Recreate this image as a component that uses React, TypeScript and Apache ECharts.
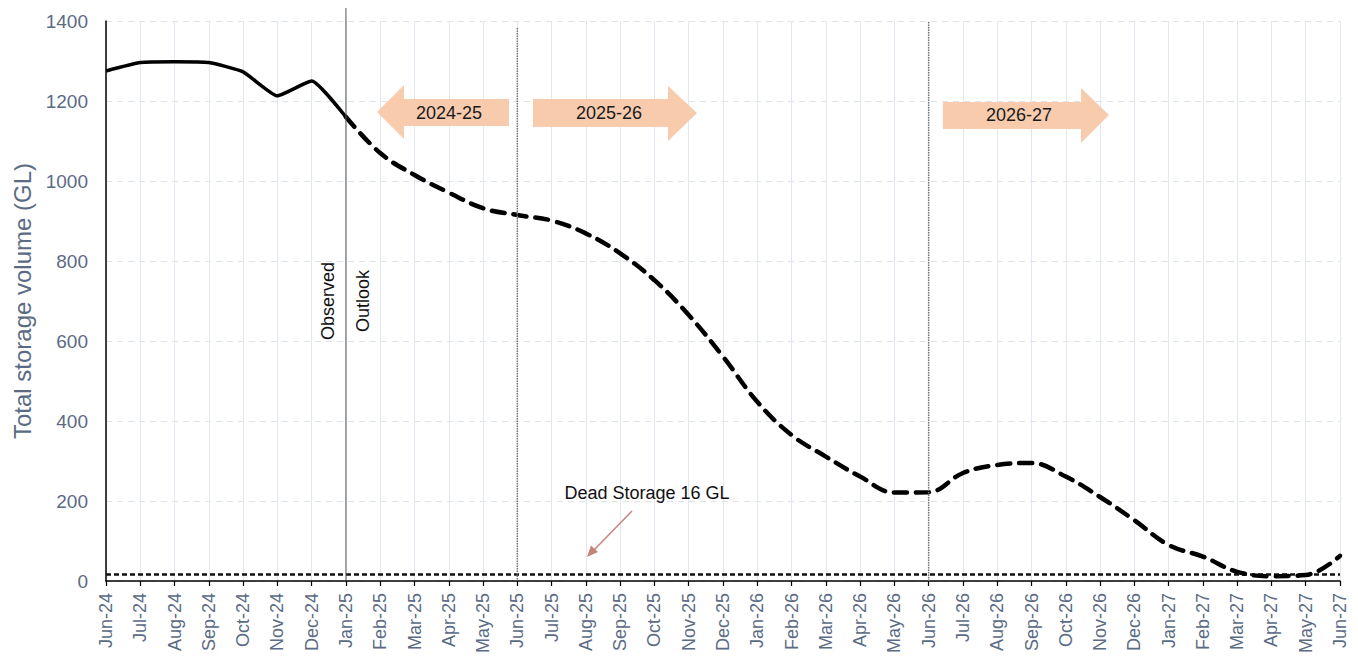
import React, { useEffect, useRef } from "react";
import * as echarts from "echarts";

const months = [
  "Jun-24", "Jul-24", "Aug-24", "Sep-24", "Oct-24", "Nov-24", "Dec-24",
  "Jan-25", "Feb-25", "Mar-25", "Apr-25", "May-25", "Jun-25", "Jul-25",
  "Aug-25", "Sep-25", "Oct-25", "Nov-25", "Dec-25", "Jan-26", "Feb-26",
  "Mar-26", "Apr-26", "May-26", "Jun-26", "Jul-26", "Aug-26", "Sep-26",
  "Oct-26", "Nov-26", "Dec-26", "Jan-27", "Feb-27", "Mar-27", "Apr-27",
  "May-27", "Jun-27",
];

const observedValues = [1275, 1296, 1298, 1296, 1273, 1213, 1250, 1160];

const outlookValues = [
  1160, 1070, 1015, 971, 932, 915, 901, 869, 819, 752, 665, 561, 448, 365,
  311, 261, 221, 222, 270, 290, 295, 261, 210, 152, 90, 61, 23, 12, 15, 63,
];

const deadStorage = 16;

const yTicks = { min: 0, max: 1400, interval: 200 };

const observedSeries = months.map((_, i) =>
  i < observedValues.length ? observedValues[i] : null
);
const outlookStart = months.length - outlookValues.length;
const outlookSeries = months.map((_, i) =>
  i >= outlookStart ? outlookValues[i - outlookStart] : null
);
const deadSeries = months.map(() => deadStorage);

const SLATE = "#5b6b84";
const FONT = "'Liberation Sans', Arial, sans-serif";
const PEACH = "#f8cbad";

export default function App() {
  const ref = useRef<HTMLDivElement>(null);

  useEffect(() => {
    document.body.style.margin = "0";
    const chart = echarts.init(ref.current!, null, { renderer: "svg" });
    chart.setOption({
      animation: false,
      grid: { left: 106, right: 18, top: 21, bottom: 77, containLabel: false },
      xAxis: {
        type: "category",
        data: months,
        boundaryGap: false,
        axisLine: { show: true, lineStyle: { color: "#000", width: 1.5 } },
        axisTick: { show: true, length: 5, lineStyle: { color: "#000", width: 1.2 } },
        axisLabel: {
          rotate: 90,
          interval: 0,
          margin: 12,
          color: SLATE,
          fontSize: 18,
          fontFamily: FONT,
        },
        splitLine: { show: true, lineStyle: { color: "#e3e8f0", width: 1 } },
      },
      yAxis: {
        type: "value",
        min: yTicks.min,
        max: yTicks.max,
        interval: yTicks.interval,
        name: "Total storage volume (GL)",
        nameLocation: "middle",
        nameGap: 72,
        nameTextStyle: { color: SLATE, fontSize: 24, fontFamily: FONT },
        axisLine: { show: true, lineStyle: { color: "#000", width: 1.5 } },
        axisTick: { show: false },
        axisLabel: {
          color: SLATE,
          fontSize: 19,
          fontFamily: FONT,
          margin: 18,
          formatter: (v: number) => String(v),
        },
        splitLine: {
          show: true,
          lineStyle: { color: "#dde3ec", type: [6, 5], width: 1 },
        },
      },
      series: [
        {
          name: "Dead storage",
          type: "line",
          data: deadSeries,
          symbol: "none",
          lineStyle: { color: "#111", width: 2.5, type: [5, 3] },
          z: 3,
        },
        {
          name: "Outlook",
          type: "line",
          data: outlookSeries,
          symbol: "none",
          smooth: 0.4,
          connectNulls: false,
          lineStyle: { color: "#000", width: 4.5, type: [13, 9], cap: "round" },
          z: 4,
        },
        {
          name: "Observed",
          type: "line",
          data: observedSeries,
          symbol: "none",
          smooth: 0.15,
          lineStyle: { color: "#000", width: 3.5, join: "round" },
          z: 5,
        },
      ],
    });

    const xPx = (m: string) => chart.convertToPixel({ xAxisIndex: 0 }, m) as number;
    const yPx = (v: number) => chart.convertToPixel({ yAxisIndex: 0 }, v) as number;
    const bottom = yPx(0);
    const xJan25 = xPx("Jan-25");
    const xJun25 = xPx("Jun-25");
    const xJun26 = xPx("Jun-26");
    const midY = yPx(700);

    const textStyle = (extra: any) => ({
      fontFamily: FONT,
      fontSize: 18,
      fill: "#111",
      align: "center",
      verticalAlign: "middle",
      ...extra,
    });

    chart.setOption({
      graphic: [
        {
          type: "line",
          shape: { x1: xJan25, y1: 8, x2: xJan25, y2: bottom },
          style: { stroke: "#555", lineWidth: 1 },
          z: 10,
        },
        {
          type: "line",
          shape: { x1: xJun25, y1: 28, x2: xJun25, y2: bottom },
          style: { stroke: "#777", lineWidth: 1.5, lineDash: [1.5, 1] },
          z: 10,
        },
        {
          type: "line",
          shape: { x1: xJun26, y1: 22, x2: xJun26, y2: bottom },
          style: { stroke: "#777", lineWidth: 1.5, lineDash: [1.5, 1] },
          z: 10,
        },
        {
          type: "text",
          x: xJan25 - 18,
          y: midY,
          rotation: Math.PI / 2,
          style: textStyle({ text: "Observed" }),
          z: 10,
        },
        {
          type: "text",
          x: xJan25 + 17,
          y: midY,
          rotation: Math.PI / 2,
          style: textStyle({ text: "Outlook" }),
          z: 10,
        },
        {
          type: "polygon",
          shape: {
            points: [
              [377, 112], [404, 85], [404, 99], [509, 99], [509, 126], [404, 126], [404, 139],
            ],
          },
          style: { fill: PEACH },
          z: 9,
        },
        {
          type: "text",
          x: 449,
          y: 113,
          style: textStyle({ text: "2024-25", fill: "#1a1a1a" }),
          z: 10,
        },
        {
          type: "polygon",
          shape: {
            points: [
              [533, 99], [668, 99], [668, 86], [697, 113], [668, 141], [668, 127], [533, 127],
            ],
          },
          style: { fill: PEACH },
          z: 9,
        },
        {
          type: "text",
          x: 609,
          y: 113,
          style: textStyle({ text: "2025-26", fill: "#1a1a1a" }),
          z: 10,
        },
        {
          type: "polygon",
          shape: {
            points: [
              [943, 102], [1081, 102], [1081, 88], [1109, 115], [1081, 143], [1081, 129], [943, 129],
            ],
          },
          style: { fill: PEACH },
          z: 9,
        },
        {
          type: "text",
          x: 1019,
          y: 115,
          style: textStyle({ text: "2026-27", fill: "#1a1a1a" }),
          z: 10,
        },
        {
          type: "text",
          x: 647,
          y: 493,
          style: textStyle({ text: "Dead Storage 16 GL" }),
          z: 10,
        },
        {
          type: "line",
          shape: { x1: 632, y1: 511, x2: 594, y2: 550 },
          style: { stroke: "#c4847a", lineWidth: 1.5 },
          z: 10,
        },
        {
          type: "polygon",
          shape: {
            points: [[587, 557], [598, 552], [591, 545.5]],
          },
          style: { fill: "#c4847a" },
          z: 10,
        },
      ],
    });

    return () => chart.dispose();
  }, []);

  return (
    <div
      ref={ref}
      style={{ position: "absolute", left: 0, top: 0, width: 1358, height: 658 }}
    />
  );
}
